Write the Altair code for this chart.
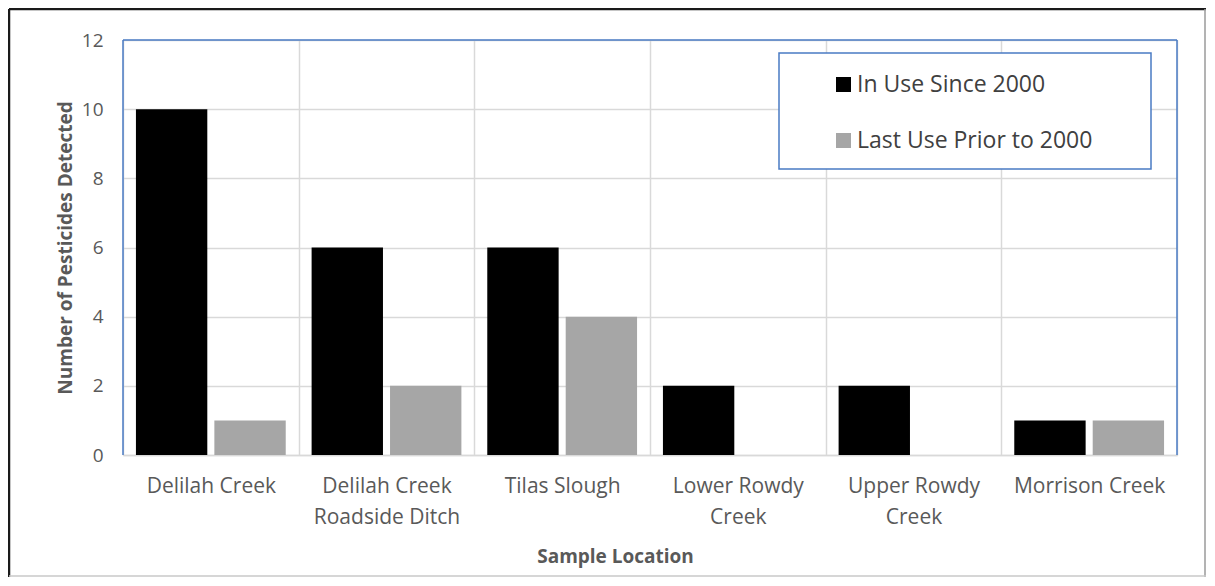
import altair as alt
import pandas as pd

locations = ["Delilah Creek", "Delilah Creek|Roadside Ditch", "Tilas Slough",
             "Lower Rowdy|Creek", "Upper Rowdy|Creek", "Morrison Creek"]
in_use = [10, 6, 6, 2, 2, 1]
prior = [1, 2, 4, 0, 0, 1]
series = ["In Use Since 2000", "Last Use Prior to 2000"]
colors = ["#000000", "#a6a6a6"]
y_ticks = [0, 2, 4, 6, 8, 10, 12]

rows = []
for loc, a, b in zip(locations, in_use, prior):
    rows.append({"loc": loc, "series": series[0], "n": a})
    rows.append({"loc": loc, "series": series[1], "n": b})
df = pd.DataFrame(rows)

FONT = "Open Sans"
TXT = "#595959"
BLUE = "#4a7bc4"
W, H = 1054, 415

one = pd.DataFrame({"k": [0]})

def deco(mark, **enc):
    return alt.Chart(one).mark_rule(**mark).encode(**{k: alt.value(v) for k, v in enc.items()})

legend_box = alt.Chart(one).mark_rect(fill="white", stroke=BLUE, strokeWidth=1.5).encode(
    x=alt.value(656), x2=alt.value(1028), y=alt.value(13), y2=alt.value(129)
)

bars = alt.Chart(df).mark_bar().encode(
    x=alt.X("loc:N", sort=locations,
            scale=alt.Scale(paddingInner=0, paddingOuter=0),
            axis=alt.Axis(title="Sample Location", labelExpr="split(datum.label, '|')",
                          labelAngle=0, tickBand="extent", grid=True, gridColor="#d9d9d9",
                          gridWidth=1.5, ticks=False, domainColor="#d9d9d9", domainWidth=1.5,
                          labelFontSize=21, labelLineHeight=31, labelPadding=20,
                          labelColor=TXT, labelFont=FONT, titleFont=FONT, titleFontSize=19,
                          titleFontWeight="bold", titleColor=TXT,
                          titleX=492, titleY=101, titleBaseline="middle")),
    xOffset=alt.XOffset("series:N", sort=series,
                        scale=alt.Scale(paddingInner=0.09, paddingOuter=0.165)),
    y=alt.Y("n:Q", scale=alt.Scale(domain=[0, 12]),
            axis=alt.Axis(title="Number of Pesticides Detected", values=y_ticks,
                          grid=True, gridColor="#d9d9d9", gridWidth=1.5, ticks=False,
                          domain=False, labelFontSize=19, labelPadding=20, labelColor=TXT,
                          labelFont=FONT, titleFont=FONT, titleFontSize=19,
                          titleFontWeight="bold", titleColor=TXT,
                          titleX=-58, titleBaseline="middle")),
    color=alt.Color("series:N", sort=series,
                    scale=alt.Scale(domain=series, range=colors),
                    legend=alt.Legend(title=None, orient="none", legendX=656, legendY=13,
                                      padding=20, labelFontSize=23, labelFont=FONT,
                                      labelColor="#404040", labelLimit=500,
                                      symbolType="square", symbolSize=225,
                                      symbolStrokeWidth=0, rowPadding=32, symbolOffset=33,
                                      labelOffset=2)),
)

borders = [
    deco(dict(color=BLUE, strokeWidth=1.5), x=0, y=0, y2=H),
    deco(dict(color=BLUE, strokeWidth=1.5), x=0, x2=W, y=0),
    deco(dict(color=BLUE, strokeWidth=1.5), x=W, y=0, y2=H),
]
frame = [
    deco(dict(color="#1a1a1a", strokeWidth=2.5), x=-114, x2=W + 29, y=-31),
    deco(dict(color="#1a1a1a", strokeWidth=2.5), x=-114, y=-31, y2=H + 122),
    deco(dict(color="#9a9a9a", strokeWidth=1.5), x=W + 28, y=-31, y2=H + 122),
    deco(dict(color="#c8c8c8", strokeWidth=1.5), x=-114, x2=W + 29, y=H + 121),
]

chart = alt.layer(*frame, bars, *borders, legend_box).properties(
    width=W, height=H,
    autosize=alt.AutoSizeParams(type="none"),
    padding={"left": 115, "top": 32, "right": 30, "bottom": 123},
).configure_view(stroke=None).configure(background="white")

chart.save("out.html", embed_options={"renderer": "svg", "actions": False})
